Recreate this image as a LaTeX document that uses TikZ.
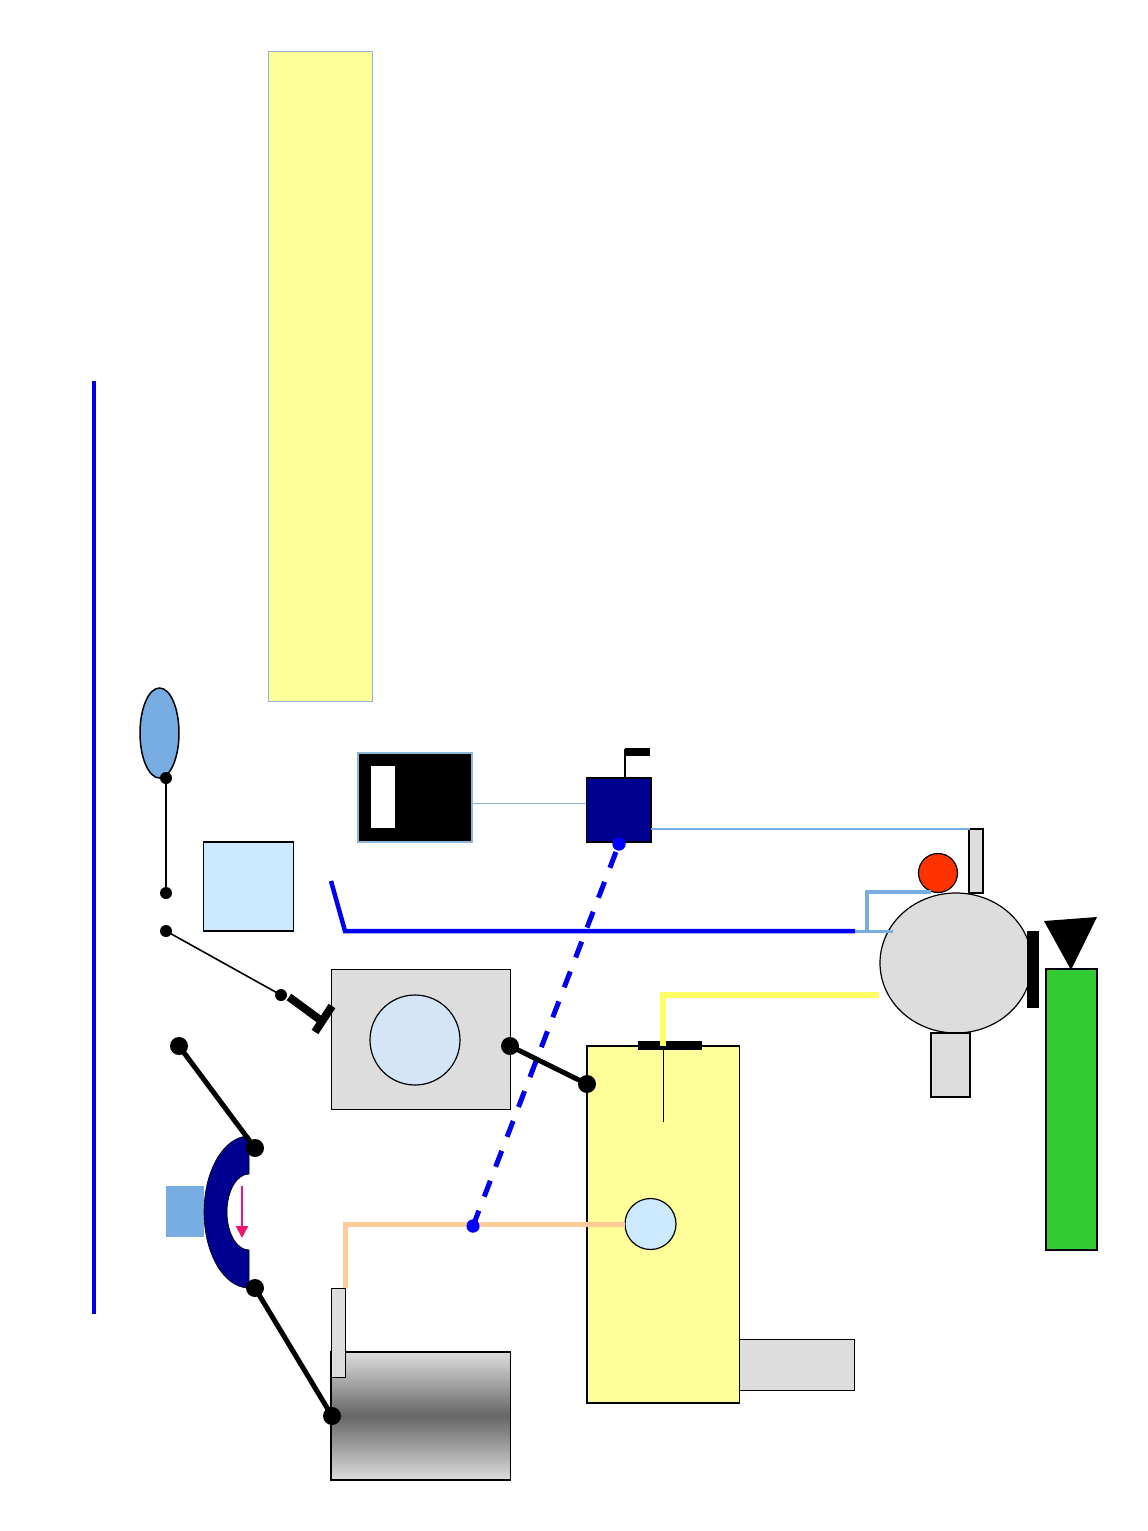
\documentclass[tikz,border=0pt]{standalone}
\usetikzlibrary{arrows.meta,shapes.geometric}
\definecolor{paleyellow}{HTML}{FFFF99}
\definecolor{palegrey}{HTML}{DDDDDD}
\definecolor{paleblue}{HTML}{CCE9FF}
\definecolor{lensblue}{HTML}{D3E5F7}
\definecolor{midblue}{HTML}{78ADE3}
\definecolor{edgeblue}{HTML}{8DB6D8}
\definecolor{navyfill}{HTML}{000090}
\definecolor{peach}{HTML}{FFCC99}
\definecolor{brightyellow}{HTML}{FFFF66}
\definecolor{pink}{HTML}{F0146E}
\definecolor{pureblue}{HTML}{0000EE}
\definecolor{redball}{HTML}{FF3300}
\definecolor{tankgreen}{HTML}{33CC33}
\tikzset{
  x=1pt,y=-1pt,
  shp/.style={inner sep=0,outer sep=0,draw=black,line width=1.2pt},
  rbox/.style n args={2}{shp,rectangle,minimum width=#1,minimum height=#2},
  ell/.style n args={2}{shp,ellipse,minimum width=#1,minimum height=#2},
  blackdot/.style={circle,fill=black,inner sep=0,outer sep=0,minimum size=#1},
  bluedot/.style={circle,fill=blue,inner sep=0,outer sep=0,minimum size=13pt},
  link/.style={black,line width=5pt},
  thinlink/.style={black,line width=1.6pt},
  paleline/.style={midblue,line width=#1},
  bus/.style={pureblue,line width=4.5pt},
}
\begin{document}
\begin{tikzpicture}
\useasboundingbox (0,0) rectangle (1148,1531);
\fill[white] (0,0) rectangle (1148,1531);
% left rule
\coordinate (ruleA) at (93.5,381);
\coordinate (ruleB) at (93.5,1314);
\draw[pureblue,line width=4pt] (ruleA) -- (ruleB);
% large yellow panel
\node[rbox={104pt}{650pt},fill=paleyellow,draw=edgeblue,line width=1pt] (panel) at (320,376) {};
% ellipse and switch dots
\node[ell={39pt}{90pt},fill=midblue,line width=1.5pt] (oval) at (159.5,733) {};
\node[blackdot=12pt] (dA) at (166,778) {};
\node[blackdot=12pt] (dB) at (166,893) {};
\node[blackdot=12pt] (dC) at (166,931) {};
\node[blackdot=12pt] (dD) at (281,995) {};
\draw[thinlink,line width=2pt] (dA.center) -- (dB.center);
\draw[thinlink] (dC.center) -- (dD.center);
% pale square
\node[rbox={90pt}{89pt},fill=paleblue,line width=1.5pt] (square) at (248.7,886.5) {};
% black box
\node[rbox={114pt}{89pt},fill=black,draw=edgeblue,line width=1.2pt] (screen) at (415,797.5) {};
\node[rectangle,fill=white,inner sep=0,minimum width=24pt,minimum height=62pt] (slot) at (383,797) {};
% navy box with antenna
\draw[edgeblue,line width=1pt] (screen.east |- 0,803) -- (586,803);
\node[rbox={64.5pt}{64pt},fill=navyfill,line width=1.5pt] (navy) at (618.5,810) {};
\node[rectangle,fill=black,inner sep=0,minimum width=25pt,minimum height=8pt] (flag) at (637.5,752) {};
\coordinate (mast) at (625,778);
\coordinate (mastTop) at (625,749);
\draw[black,line width=2pt] (mast) -- (mastTop);
% grey tab and link to it
\node[rbox={14pt}{64pt},fill=palegrey,line width=1.2pt] (tab) at (976,861) {};
\coordinate (tabIn) at (969.5,829);
\coordinate (navyOut) at (651,829);
\draw[paleline=2pt] (navyOut) -- (tabIn);
% blue bus
\coordinate (busA) at (331,881);
\coordinate (busB) at (345,931);
\coordinate (busC) at (855,931);
\coordinate (busD) at (893,931);
\coordinate (busE) at (867,931);
\coordinate (busF) at (867,892);
\coordinate (busG) at (931,892);
% pump
\node[ell={152pt}{140pt},fill=palegrey] (pump) at (956,963) {};
\node[shp,circle,minimum size=39pt,fill=redball] (ball) at (938,873) {};
\draw[bus,line join=miter] (busA) -- (busB) -- (busC);
\draw[paleline=3pt] (busC) -- (busD);
\draw[paleline=4.5pt] (busE) -- (busF) -- (busG);
% right side
\node[rectangle,fill=black,inner sep=0,minimum width=12pt,minimum height=77pt] (bar) at (1033,969.5) {};
\node[rbox={51pt}{281pt},fill=tankgreen,line width=1.5pt] (tank) at (1071.5,1109.5) {};
\coordinate (triA) at (1044,921);
\coordinate (triB) at (1097,917);
\coordinate (triC) at (1071,970);
\fill[black] (triA) -- (triB) -- (triC) -- cycle;
\node[rbox={39pt}{64pt},fill=palegrey,line width=1.5pt] (foot) at (950.5,1065) {};
% yellow tank
\node[rbox={115pt}{51pt},fill=palegrey,line width=1pt] (stub) at (797,1364.5) {};
\node[rbox={152.5pt}{357pt},fill=paleyellow,line width=1.5pt] (vessel) at (663.2,1224.5) {};
\node[shp,circle,minimum size=51pt,fill=paleblue] (sight) at (650.5,1224) {};
\coordinate (yA) at (879,995);
\coordinate (yB) at (663,995);
\coordinate (yC) at (663,1046);
\node[rectangle,fill=black,inner sep=0,minimum width=64pt,minimum height=9pt] (lid) at (670,1045.5) {};
\draw[brightyellow,line width=6pt] (yA) -- (yB) -- (yC);
\coordinate (dipA) at (663,1050);
\coordinate (dipB) at (663,1122);
\draw[black,line width=0.8pt] (dipA) -- (dipB);
% grey block
\node[rbox={179.5pt}{140pt},fill=palegrey,line width=1pt] (block) at (420.8,1039) {};
\node[shp,circle,minimum size=90pt,fill=lensblue] (lens) at (415,1040) {};
\coordinate (tA) at (289,997);
\coordinate (tB) at (323,1022);
\coordinate (tC) at (315,1032);
\coordinate (tD) at (332,1006);
\draw[black,line width=8pt] (tA) -- (tB);
\draw[black,line width=8pt] (tC) -- (tD);
% gradient cylinder
\node[rectangle,inner sep=0,outer sep=0,minimum width=179.5pt,minimum height=128pt,top color=palegrey,bottom color=palegrey,middle color=black!60,draw=black,line width=1.2pt] (cyl) at (420.8,1416) {};
\node[rbox={14pt}{89pt},fill=palegrey,line width=1pt] (valve) at (338,1332.5) {};
% orange line and dashed link
\coordinate (oA) at (345,1288);
\coordinate (oB) at (345,1224);
\node[bluedot] (bdA) at (619,844) {};
\node[bluedot] (bdB) at (473,1226) {};
\draw[peach,line width=5pt] (oA) -- (oB) -- (sight.west |- oB);
\draw[pureblue,line width=5pt,dash pattern=on 17pt off 15pt,dash phase=23.5pt] (bdA.center) -- (bdB.center);
\node[bluedot] at (bdA) {};
\node[bluedot] at (bdB) {};
% heavy links
\node[blackdot=18pt] (hA) at (510,1046) {};
\node[blackdot=18pt] (hB) at (587,1084) {};
\draw[link] (hA.center) -- (hB.center);
% crescent
\node[rectangle,fill=midblue,inner sep=0,minimum width=38pt,minimum height=51pt] (pad) at (185,1211.5) {};
\coordinate (crA) at (249,1136);
\coordinate (crB) at (249,1288);
\coordinate (crC) at (249,1250);
\coordinate (crD) at (249,1174);
\draw[black,line width=0.6pt,fill=navyfill] (crA) arc[start angle=90,end angle=270,x radius=45,y radius=-76] -- (crC) arc[start angle=270,end angle=90,x radius=22,y radius=-38] -- cycle;
\coordinate (arA) at (242,1186);
\coordinate (arB) at (242,1238);
\draw[pink,line width=2.4pt,-{Triangle[length=12pt,width=12pt]}] (arA) -- (arB);
\node[blackdot=18pt] (hC) at (179,1046) {};
\node[blackdot=18pt] (hD) at (255,1148) {};
\node[blackdot=18pt] (hE) at (255,1288) {};
\node[blackdot=18pt] (hF) at (332,1416) {};
\draw[link] (hC.center) -- (hD.center);
\draw[link] (hE.center) -- (hF.center);
\end{tikzpicture}
\end{document}
